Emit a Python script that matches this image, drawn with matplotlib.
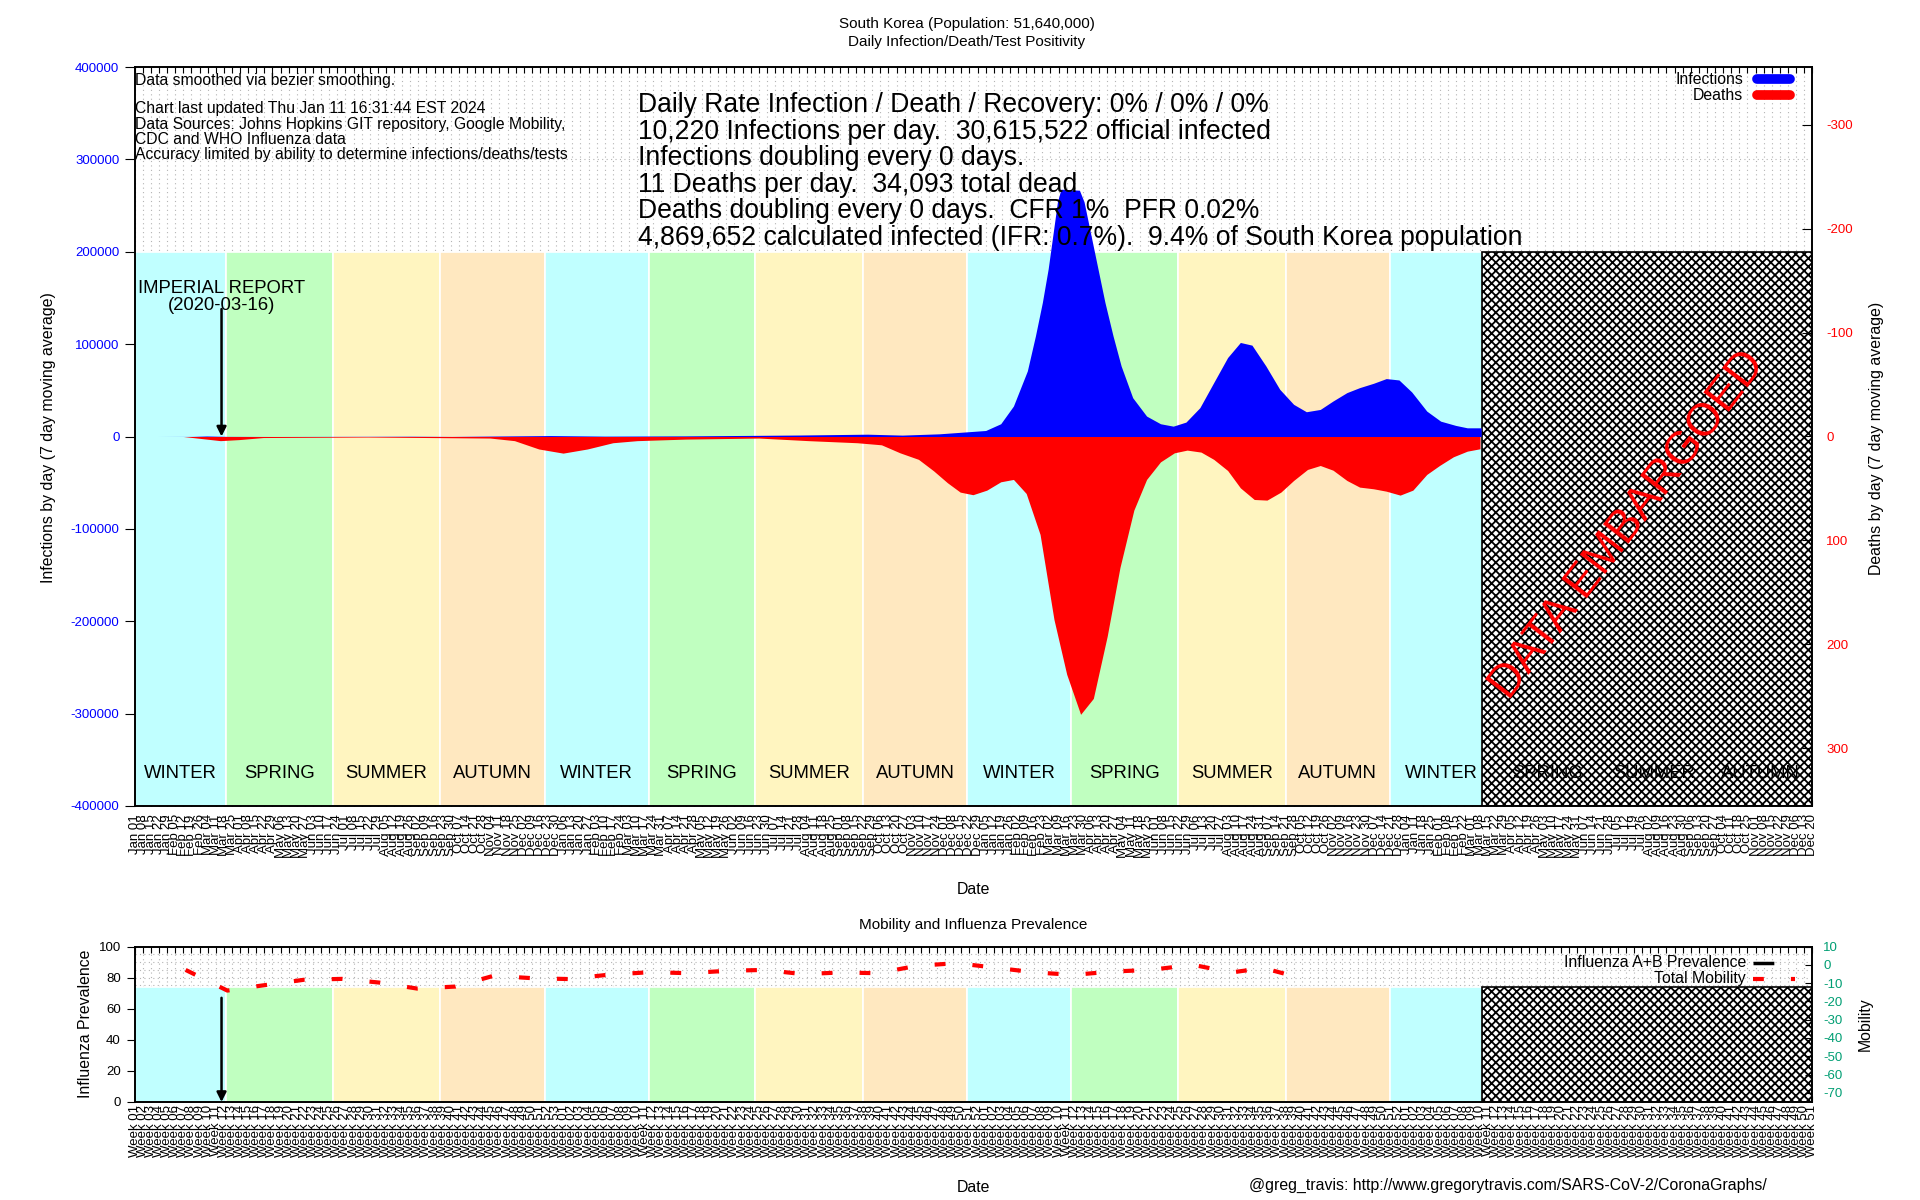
import numpy as np
import pandas as pd
import matplotlib
matplotlib.use('Agg')
import matplotlib.pyplot as plt
import matplotlib.dates as mdates
from matplotlib.patches import Rectangle
from matplotlib.lines import Line2D
from matplotlib.ticker import MultipleLocator

plt.rcParams['font.family'] = ['Liberation Sans', 'DejaVu Sans']
plt.rcParams['hatch.linewidth'] = 1.3

# ---------------- data ----------------
inf_dates = ['2020-01-20', '2020-02-20', '2020-03-03', '2020-03-20', '2020-05-01', '2020-08-27',
             '2020-10-01', '2020-12-25', '2021-02-10', '2021-04-20', '2021-07-28', '2021-09-25',
             '2021-10-25', '2021-11-26', '2022-01-05', '2022-01-18', '2022-01-29', '2022-02-10',
             '2022-02-17', '2022-02-23', '2022-02-28', '2022-03-04', '2022-03-08', '2022-03-11',
             '2022-03-27', '2022-03-31', '2022-04-06', '2022-04-12', '2022-04-18', '2022-04-25',
             '2022-05-02', '2022-05-12', '2022-05-24', '2022-06-05', '2022-06-16', '2022-06-27',
             '2022-07-09', '2022-07-21', '2022-08-02', '2022-08-13', '2022-08-23', '2022-09-04',
             '2022-09-16', '2022-09-28', '2022-10-09', '2022-10-21', '2022-11-01', '2022-11-13',
             '2022-11-24', '2022-12-06', '2022-12-17', '2022-12-28', '2023-01-08', '2023-01-21',
             '2023-02-02', '2023-02-15', '2023-02-25', '2023-03-09']
inf_values = [0, 100, 550, 150, 20, 300,
              80, 1000, 400, 650, 1600, 2500,
              1500, 2900, 6500, 13800, 33000, 71000,
              109000, 145300, 181500, 217700, 254000, 267700,
              266600, 254000, 217700, 181500, 145300, 109000,
              76400, 42000, 22100, 13800, 11200, 15600,
              31200, 58400, 85500, 101800, 98900, 76400,
              51100, 34800, 26800, 29300, 38400, 47500,
              52900, 57600, 62700, 61200, 48200, 27500,
              16600, 12000, 9400, 9400]

death_dates = ['2020-02-12', '2020-03-15', '2020-03-31', '2020-04-21', '2020-07-20', '2020-11-03',
               '2020-11-24', '2020-12-15', '2021-01-05', '2021-01-26', '2021-02-17', '2021-03-10',
               '2021-04-21', '2021-06-23', '2021-08-05', '2021-09-16', '2021-10-07', '2021-10-23',
               '2021-11-08', '2021-11-21', '2021-12-03', '2021-12-14', '2021-12-25', '2022-01-06',
               '2022-01-18', '2022-01-29', '2022-02-09', '2022-02-21', '2022-03-05', '2022-03-16',
               '2022-03-28', '2022-04-08', '2022-04-20', '2022-05-01', '2022-05-13', '2022-05-24',
               '2022-06-05', '2022-06-17', '2022-06-28', '2022-07-10', '2022-07-21', '2022-08-02',
               '2022-08-13', '2022-08-25', '2022-09-05', '2022-09-17', '2022-09-28', '2022-10-10',
               '2022-10-21', '2022-11-01', '2022-11-13', '2022-11-24', '2022-12-06', '2022-12-17',
               '2022-12-29', '2023-01-09', '2023-01-21', '2023-02-01', '2023-02-13', '2023-02-25',
               '2023-03-08']
death_values = [0, 4, 3, 1, 0.5, 1.5,
                4, 12, 16, 12, 6, 4,
                2.5, 1.5, 4, 6, 8, 15.7,
                22, 33, 44.5, 53.5, 56, 51.6,
                43.6, 41.3, 54.8, 94.2, 176, 228.8,
                267.3, 252, 192, 126, 70.8, 41.3,
                24.4, 15.7, 13.1, 15, 22, 32.7,
                49.4, 60.6, 61.2, 53.5, 42.3, 31.7,
                27.9, 32.4, 42.3, 48.7, 50.3, 52.6,
                56.4, 51.6, 36.5, 27.9, 19.5, 14.1,
                11.8]

mob_dates = ['2020-02-14', '2020-03-21', '2020-04-18', '2020-05-26', '2020-06-28', '2020-07-30',
             '2020-09-01', '2020-10-04', '2020-11-06', '2020-12-09', '2021-01-10', '2021-02-12',
             '2021-03-22', '2021-04-23', '2021-05-26', '2021-06-28', '2021-07-31', '2021-09-02',
             '2021-10-04', '2021-11-06', '2021-12-11', '2022-01-16', '2022-02-17', '2022-03-22',
             '2022-04-24', '2022-05-27', '2022-07-03', '2022-08-05', '2022-09-02', '2022-10-10']
mob_values = [-2.8, -14.1, -11.5, -8.2, -7.7, -9.7,
              -13.0, -11.9, -6.0, -7.3, -7.8, -5.5,
              -4.0, -4.6, -3.3, -2.8, -5.1, -4.2,
              -4.6, -0.6, 0.9, -1.8, -4.2, -5.5,
              -3.7, -2.8, 0.0, -4.2, -1.8, -8.2]

flu_dates = []
flu_values = []

season_names = ['WINTER', 'SPRING', 'SUMMER', 'AUTUMN'] * 4
season_starts = ['2020-01-01', '2020-03-20', '2020-06-20', '2020-09-21',
                 '2020-12-20', '2021-03-20', '2021-06-20', '2021-09-21',
                 '2021-12-20', '2022-03-20', '2022-06-20', '2022-09-21',
                 '2022-12-20', '2023-03-20', '2023-06-20', '2023-09-21']
season_colors = {'WINTER': '#c0ffff', 'SPRING': '#c0ffc0',
                 'SUMMER': '#fff5c0', 'AUTUMN': '#ffe8c0'}

x_start = '2020-01-01'
x_end = '2023-12-20'
embargo_date = '2023-03-10'
imperial_date = '2020-03-16'

inf_ticks = list(range(-400000, 400001, 100000))
death_ticks = list(range(-300, 301, 100))
flu_ticks = list(range(0, 101, 20))
mob_ticks = list(range(-70, 11, 10))

title_lines = ['South Korea (Population: 51,640,000)', 'Daily Infection/Death/Test Positivity']
notes_lines = ['Data smoothed via bezier smoothing.',
               'Chart last updated Thu Jan 11 16:31:44 EST 2024',
               'Data Sources: Johns Hopkins GIT repository, Google Mobility,',
               'CDC and WHO Influenza data',
               'Accuracy limited by ability to determine infections/deaths/tests']
stats_lines = ['Daily Rate Infection / Death / Recovery: 0% / 0% / 0%',
               '10,220 Infections per day.  30,615,522 official infected',
               'Infections doubling every 0 days.',
               '11 Deaths per day.  34,093 total dead',
               'Deaths doubling every 0 days.  CFR 1%  PFR 0.02%',
               '4,869,652 calculated infected (IFR: 0.7%).  9.4% of South Korea population']

# ---------------- layout helpers ----------------
W, H = 1920, 1200


def fx(px):
    return px / W


def fy(py):
    return 1 - py / H


fig = plt.figure(figsize=(19.2, 12), dpi=100)

ax1 = fig.add_axes([fx(134.7), fy(806), fx(1812.3) - fx(134.7), fy(67) - fy(806)])
ax2 = ax1.twinx()
ax3 = fig.add_axes([fx(134.7), fy(1102), fx(1812.3) - fx(134.7), fy(946.5) - fy(1102)])
ax4 = ax3.twinx()

xs = pd.Timestamp(x_start)
xe = pd.Timestamp(x_end)
emb = pd.Timestamp(embargo_date)
week_ticks = pd.date_range(xs, xe, freq='7D')

starts = pd.to_datetime(season_starts)
ends = list(starts[1:]) + [xe]


def draw_seasons(ax, y0, y1, labels_y=None):
    for name, s, e in zip(season_names, starts, ends):
        if s < emb:
            e2 = min(e, emb)
            ax.add_patch(Rectangle((mdates.date2num(s), y0),
                                   mdates.date2num(e2) - mdates.date2num(s), y1 - y0,
                                   facecolor=season_colors[name], edgecolor='white',
                                   lw=1.2, zorder=1))
    # embargoed part: crosshatched box
    ax.add_patch(Rectangle((mdates.date2num(emb), y0),
                           mdates.date2num(xe) - mdates.date2num(emb), y1 - y0,
                           facecolor='white', edgecolor='black', hatch='xxxx',
                           lw=1.2, zorder=2))
    if labels_y is not None:
        for name, s, e in zip(season_names, starts, ends):
            ax.text(s + (e - s) / 2, labels_y, name, ha='center', va='center',
                    fontsize=13.3, zorder=6)


grid_kw = dict(color='#b4b4b4', linestyle=(0, (1, 3)), lw=0.8)

# ---------------- main chart ----------------
ax1.set_xlim(xs, xe)
ax1.set_ylim(-400000, 400000)
ax2.set_ylim(355.5, -355.5)
ax1.set_axisbelow(True)

draw_seasons(ax1, -400000, 200000, labels_y=-365000)

ax1.fill_between(pd.to_datetime(inf_dates), 0, inf_values, color='blue', lw=0, zorder=3)
ax2.fill_between(pd.to_datetime(death_dates), 0, death_values, color='red', lw=0, zorder=3)

ax1.set_xticks(week_ticks)
ax1.set_xticklabels([d.strftime('%b %d') for d in week_ticks], rotation=90,
                    fontsize=9.5, va='top', ha='center')
ax1.tick_params(axis='x', direction='in', length=4, top=True, bottom=True, pad=6)
ax1.grid(True, axis='x', **grid_kw)
ax1.grid(True, axis='y', **grid_kw)

ax1.set_yticks(inf_ticks)
ax1.set_yticklabels([str(v) for v in inf_ticks], fontsize=9.5, color='blue')
ax1.tick_params(axis='y', direction='out', length=7, pad=4)
ax2.set_yticks(death_ticks)
ax2.set_yticklabels([str(v) for v in death_ticks], fontsize=9.5, color='red')
ax2.tick_params(axis='y', direction='in', length=7, pad=10)

imp = pd.Timestamp(imperial_date)
ax1.annotate('', xy=(imp, 0), xytext=(imp, 138000),
             arrowprops=dict(arrowstyle='-|>', color='black', lw=1.8,
                             mutation_scale=14, shrinkA=0, shrinkB=0), zorder=7)
ax1.text(imp, 151000, 'IMPERIAL REPORT\n(2020-03-16)', ha='center', va='center',
         fontsize=13.3, linespacing=1.0, zorder=7)

ax1.text(0.890, 0.380, 'DATA EMBARGOED', transform=ax1.transAxes, rotation=52.7,
         rotation_mode='anchor', ha='center', va='center', fontsize=33, color='red', zorder=8)

# ---------------- bottom chart ----------------
ax3.set_xlim(xs, xe)
ax3.set_ylim(0, 100)
ax4.set_ylim(-75, 10)
ax3.set_axisbelow(True)

draw_seasons(ax3, 0, 74)

ax4.plot(pd.to_datetime(mob_dates), mob_values, color='red', lw=3,
         dashes=(2.6, 6.5), zorder=4)
ax3.plot(pd.to_datetime(flu_dates) if flu_dates else [], flu_values, color='black',
         lw=2, dashes=(4, 4, 1, 4), zorder=4)

ax3.set_xticks(week_ticks)
ax3.set_xticklabels(['Week %02d' % d.isocalendar()[1] for d in week_ticks], rotation=90,
                    fontsize=9.5, va='top', ha='center')
ax3.tick_params(axis='x', direction='in', length=4, top=True, bottom=True, pad=2)
ax3.yaxis.set_minor_locator(MultipleLocator(5))
ax3.grid(True, axis='x', **grid_kw)
ax3.grid(True, axis='y', which='both', **grid_kw)
ax3.set_yticks(flu_ticks)
ax3.set_yticklabels([str(v) for v in flu_ticks], fontsize=9.5)
ax3.tick_params(axis='y', which='major', direction='out', length=6, pad=4)
ax3.tick_params(axis='y', which='minor', length=0)
ax4.set_yticks(mob_ticks)
ax4.set_yticklabels([str(v) for v in mob_ticks], fontsize=9.5, color='#009e73')
ax4.tick_params(axis='y', direction='in', length=5, pad=8)

ax3.annotate('', xy=(imp, 0), xytext=(imp, 67),
             arrowprops=dict(arrowstyle='-|>', color='black', lw=1.8,
                             mutation_scale=14, shrinkA=0, shrinkB=0), zorder=7)

for ax in (ax1, ax2, ax3, ax4):
    for sp in ax.spines.values():
        sp.set_linewidth(1.2)
        sp.set_zorder(9)

# ---------------- texts ----------------
fig.text(fx(967), fy(24), title_lines[0], ha='center', va='center', fontsize=11)
fig.text(fx(967), fy(42), title_lines[1], ha='center', va='center', fontsize=11)

for txt, y in zip(notes_lines, [80, 109, 124, 139, 154]):
    fig.text(fx(135), fy(y), txt, ha='left', va='center', fontsize=11.3)

for txt, y in zip(stats_lines, [105, 132, 158, 185, 211, 238]):
    fig.text(fx(638), fy(y), txt, ha='left', va='center', fontsize=19.1)

fig.text(fx(49), fy(438), 'Infections by day (7 day moving average)', rotation=90,
         ha='center', va='center', fontsize=11.4)
fig.text(fx(1876), fy(438), 'Deaths by day (7 day moving average)', rotation=90,
         ha='center', va='center', fontsize=11.4)
fig.text(fx(973), fy(889), 'Date', ha='center', va='center', fontsize=11.4)

fig.text(fx(973), fy(924.5), 'Mobility and Influenza Prevalence', ha='center', va='center',
         fontsize=11)
fig.text(fx(86), fy(1024), 'Influenza Prevalence', rotation=90, ha='center', va='center',
         fontsize=11.4)
fig.text(fx(1865), fy(1024), 'Mobility', rotation=90, ha='center', va='center', fontsize=11.4)
fig.text(fx(973), fy(1188), 'Date', ha='center', va='center', fontsize=11.4)
fig.text(fx(1249), fy(1185), '@greg_travis: http://www.gregorytravis.com/SARS-CoV-2/CoronaGraphs/',
         ha='left', va='center', fontsize=11.4)

# legends drawn by hand, gnuplot style
fig.text(fx(1743), fy(79), 'Infections', ha='right', va='center', fontsize=11.4)
fig.text(fx(1743), fy(95), 'Deaths', ha='right', va='center', fontsize=11.4)
fig.add_artist(Line2D([fx(1757), fx(1790)], [fy(78.5), fy(78.5)], transform=fig.transFigure,
                      color='blue', lw=7, solid_capstyle='round'))
fig.add_artist(Line2D([fx(1757), fx(1790)], [fy(94.5), fy(94.5)], transform=fig.transFigure,
                      color='red', lw=7, solid_capstyle='round'))

fig.text(fx(1746), fy(962.5), 'Influenza A+B Prevalence', ha='right', va='center', fontsize=11.4)
fig.text(fx(1746), fy(979), 'Total Mobility', ha='right', va='center', fontsize=11.4)
fig.add_artist(Line2D([fx(1753), fx(1795)], [fy(962.5), fy(962.5)], transform=fig.transFigure,
                      color='black', lw=2.5, dashes=(6, 8, 1, 8)))
fig.add_artist(Line2D([fx(1753), fx(1795)], [fy(979), fy(979)], transform=fig.transFigure,
                      color='red', lw=3, dashes=(2.6, 6.5)))

fig.savefig('out.png', dpi=100)
